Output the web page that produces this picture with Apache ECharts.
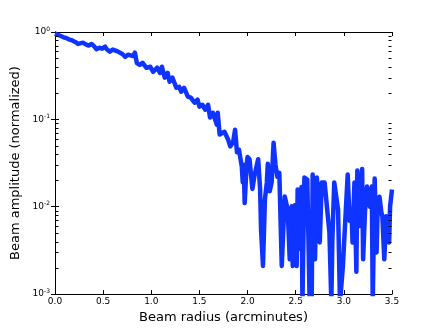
<!DOCTYPE html>
<html>
<head>
<meta charset="utf-8">
<script src="https://cdn.jsdelivr.net/npm/echarts@6/dist/echarts.min.js"></script>
<style>
  html, body { margin: 0; padding: 0; background: #fff; }
  #chart { width: 436px; height: 329px; }
</style>
</head>
<body>
<div id="chart"></div>
<script>
// beam radius (arcminutes)
var radius = [
  0.00, 0.03, 0.06, 0.09, 0.12, 0.15, 0.18, 0.21, 0.24, 0.26,
  0.29, 0.32, 0.35, 0.38, 0.41, 0.43, 0.46, 0.49, 0.52, 0.54,
  0.57, 0.60, 0.62, 0.65, 0.67, 0.70, 0.73, 0.76, 0.78, 0.81,
  0.83, 0.85, 0.88, 0.91, 0.95, 0.99, 1.02, 1.06, 1.09, 1.11,
  1.14, 1.17, 1.19, 1.22, 1.26, 1.29, 1.31, 1.34, 1.38, 1.41,
  1.45, 1.48, 1.50, 1.53, 1.56, 1.59, 1.61, 1.64, 1.68, 1.69,
  1.71, 1.73, 1.76, 1.78, 1.80, 1.82, 1.85, 1.87, 1.89,
  1.91, 1.94, 1.95, 1.96, 1.97, 1.99, 2.00, 2.02, 2.05, 2.07,
  2.09, 2.11, 2.13, 2.14, 2.16, 2.18, 2.20, 2.21, 2.23, 2.25,
  2.27, 2.29, 2.31, 2.33, 2.355, 2.386, 2.417, 2.438, 2.458, 2.469,
  2.49, 2.51, 2.52, 2.54, 2.56, 2.57, 2.59, 2.62, 2.645, 2.666,
  2.676, 2.70, 2.72, 2.75, 2.77, 2.80, 2.82, 2.85, 2.87, 2.88,
  2.90, 2.94, 2.96, 2.99, 3.04, 3.06, 3.08, 3.09,
  3.11, 3.13, 3.14, 3.16, 3.17, 3.19, 3.20, 3.22, 3.24, 3.26,
  3.27, 3.29, 3.30, 3.32, 3.34, 3.35, 3.37, 3.39, 3.40, 3.42,
  3.44, 3.47, 3.48, 3.50
];
// normalized beam amplitude
var amplitude = [
  0.96, 0.93, 0.90, 0.87, 0.85, 0.82, 0.80, 0.77, 0.73, 0.71,
  0.755, 0.72, 0.70, 0.73, 0.68, 0.635, 0.66, 0.645, 0.68, 0.63,
  0.596, 0.63, 0.66, 0.60, 0.58, 0.56, 0.52, 0.55, 0.547, 0.53,
  0.58, 0.44, 0.42, 0.443, 0.389, 0.40, 0.35, 0.39, 0.34, 0.40,
  0.30, 0.341, 0.269, 0.30, 0.23, 0.236, 0.207, 0.23, 0.182, 0.177,
  0.155, 0.168, 0.14, 0.147, 0.129, 0.147, 0.105, 0.119, 0.087, 0.119,
  0.067, 0.064, 0.072, 0.07, 0.058, 0.049, 0.055, 0.076, 0.042,
  0.045, 0.029, 0.019, 0.03, 0.011, 0.03, 0.037, 0.035, 0.016, 0.022,
  0.028, 0.035, 0.016, 0.0055, 0.0021, 0.012, 0.019, 0.031, 0.015, 0.019,
  0.054, 0.03, 0.022, 0.0245, 0.0021, 0.0131, 0.0092, 0.0025, 0.0101, 0.0021,
  0.0104, 0.0021, 0.0158, 0.0033, 0.0168, 0.0008, 0.0216, 0.0205, 0.0008, 0.0008,
  0.0234, 0.0025, 0.0216, 0.0039, 0.019, 0.019, 0.0112, 0.0051, 0.0008, 0.0039,
  0.019, 0.0092, 0.0008, 0.0021, 0.0234, 0.0069, 0.009, 0.0039,
  0.019, 0.0018, 0.026, 0.012, 0.006, 0.027, 0.0025, 0.009, 0.017, 0.012,
  0.010, 0.017, 0.0008, 0.021, 0.003, 0.0086, 0.013, 0.0086, 0.0078, 0.0025,
  0.0078, 0.0039, 0.010, 0.0158
];
var yMin = 0.001, yMax = 1;

var pts = [];
for (var i = 0; i < radius.length; i++) pts.push([radius[i], amplitude[i]]);

// minor log ticks 2..9 per decade, drawn on both frame sides
var minor = [];
for (var d = yMin; d < yMax * 0.99; d *= 10) {
  for (var m = 2; m <= 9; m++) minor.push([1, d * m]);
}

var font = 'DejaVu Sans';
var chart = echarts.init(document.getElementById('chart'));
var tickStyle = { show: true, inside: true, length: 4, lineStyle: { color: '#000', width: 1 } };
var lineStyle = { show: true, lineStyle: { color: '#000', width: 1 } };

var option = {
  backgroundColor: '#fff',
  animation: false,
  grid: { left: 55, right: 44, top: 32, bottom: 33 },
  xAxis: [
    {
      type: 'value', min: 0, max: 3.5, interval: 0.5,
      name: 'Beam radius (arcminutes)', nameLocation: 'middle', nameGap: 13,
      nameTextStyle: { fontFamily: font, fontSize: 13, color: '#000' },
      axisLine: lineStyle, axisTick: tickStyle, splitLine: { show: false },
      axisLabel: { fontFamily: font, fontSize: 9, color: '#000', margin: 3,
        formatter: function (v) { return v.toFixed(1); } }
    },
    {
      type: 'value', min: 0, max: 3.5, interval: 0.5, position: 'top',
      axisLine: lineStyle, axisTick: tickStyle, splitLine: { show: false },
      axisLabel: { show: false }
    }
  ],
  yAxis: [
    {
      type: 'log', logBase: 10, min: yMin, max: yMax,
      name: 'Beam amplitude (normalized)', nameLocation: 'middle', nameGap: 27,
      nameTextStyle: { fontFamily: font, fontSize: 13, color: '#000' },
      axisLine: lineStyle, axisTick: tickStyle, splitLine: { show: false },
      axisLabel: {
        fontFamily: font, color: '#000', margin: 5,
        formatter: function (v) {
          var e = Math.round(Math.log10(v));
          return '{b|10}{s|' + e + '}';
        },
        rich: {
          b: { fontFamily: font, fontSize: 9, color: '#000' },
          s: { fontFamily: font, fontSize: 6, color: '#000', padding: [0, 0, 6, 0] }
        }
      }
    },
    {
      type: 'log', logBase: 10, min: yMin, max: yMax, position: 'right',
      axisLine: lineStyle, axisTick: tickStyle, splitLine: { show: false },
      axisLabel: { show: false }
    }
  ],
  series: [
    {
      type: 'line', data: pts, showSymbol: false, symbol: 'none',
      xAxisIndex: 0, yAxisIndex: 0, clip: true,
      lineStyle: { color: '#1034ff', width: 4.5, join: 'round' }
    },
    {
      type: 'custom', data: minor, xAxisIndex: 0, yAxisIndex: 0, silent: true, z: 10, clip: false,
      renderItem: function (params, api) {
        var p = api.coord([api.value(0), api.value(1)]);
        var cs = params.coordSys;
        var y = Math.round(p[1]) + 0.5;
        var xl = Math.round(cs.x) + 0.5;
        var xr = Math.round(cs.x + cs.width) - 0.5;
        return {
          type: 'group',
          children: [
            { type: 'line', shape: { x1: xl, y1: y, x2: xl + 3, y2: y },
              style: { stroke: '#000', lineWidth: 1 } },
            { type: 'line', shape: { x1: xr, y1: y, x2: xr - 3, y2: y },
              style: { stroke: '#000', lineWidth: 1 } }
          ]
        };
      }
    }
  ]
};
chart.setOption(option);
</script>
</body>
</html>
